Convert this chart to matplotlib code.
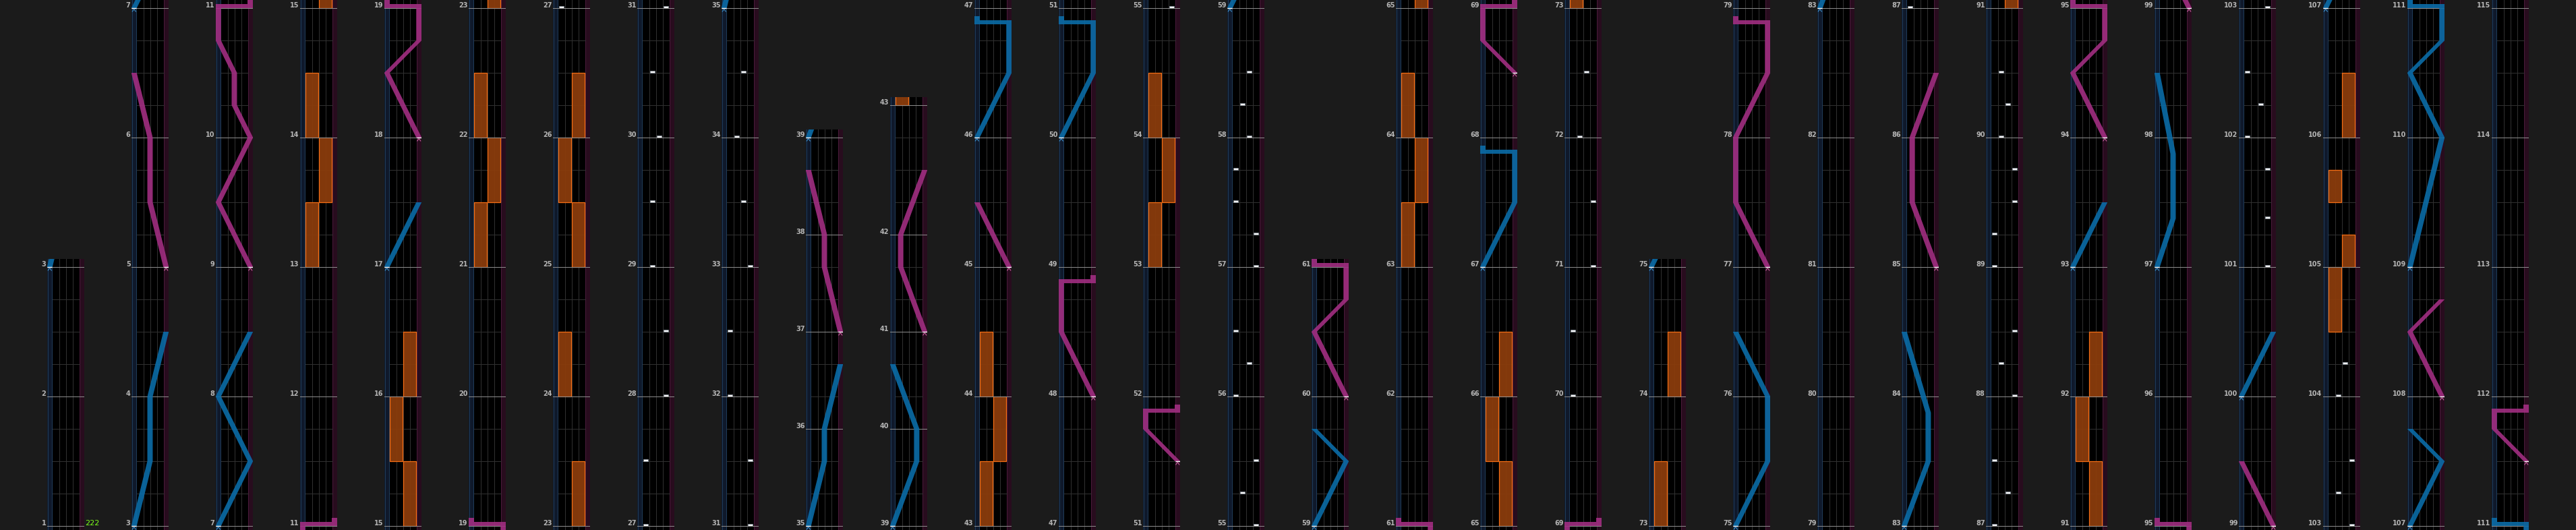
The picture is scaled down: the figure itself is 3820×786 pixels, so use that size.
import matplotlib
matplotlib.use('Agg')
import matplotlib.pyplot as plt
from matplotlib.patches import Rectangle, Polygon

# ---- chart data -------------------------------------------------------
n_measures = 116
three_four = [35, 36, 37, 38, 39, 40, 41]          # measures in 3/4

column_starts = [1, 3, 7, 11, 15, 19, 23, 27, 31, 35, 39, 43, 47, 51, 55,
                 59, 61, 65, 69, 73, 75, 79, 83, 87, 91, 95, 99, 103, 107, 111]
column_ends = [3, 7, 11, 15, 19, 23, 27, 31, 35, 39, 43, 47, 51, 55, 59,
               61, 65, 69, 73, 75, 79, 83, 87, 91, 95, 99, 103, 107, 111, 115]

bpm_marks = [(1, 0, '222')]

# BT chips: (measure, beat, lane 0-3)
bt_chips = [
    (27, 0, 0), (27, 2, 0), (28, 0, 3), (28, 2, 3), (29, 0, 1), (29, 2, 1),
    (30, 0, 2), (30, 2, 1), (31, 0, 3), (31, 2, 3), (32, 0, 0), (32, 2, 0),
    (33, 0, 3), (33, 2, 2), (34, 0, 1), (34, 2, 2),
    (55, 0, 3), (55, 1, 1), (55, 2, 3), (56, 0, 0), (56, 1, 2), (56, 2, 0),
    (57, 0, 3), (57, 1, 3), (57, 2, 0), (57, 3, 0), (58, 0, 2), (58, 1, 1), (58, 2, 2),
    (70, 0, 0), (70, 2, 0), (71, 0, 3), (71, 2, 3), (72, 0, 1), (72, 2, 2),
    (87, 0, 0), (87, 1, 2), (87, 2, 0), (88, 0, 3), (88, 1, 1), (88, 2, 3),
    (89, 0, 0), (89, 1, 0), (89, 2, 3), (89, 3, 3), (90, 0, 1), (90, 1, 2), (90, 2, 1),
    (101, 0, 3), (101, 1.5, 3), (101, 3, 3), (102, 0, 0), (102, 1, 2), (102, 2, 0),
    (103, 0, 3), (103, 1, 1), (103, 2, 3), (104, 0, 1), (104, 1, 2),
]

# FX holds: (measure, beat, length in beats, side 0=L 1=R)
fx_holds = [
    (13, 0, 2, 0), (13, 2, 2, 1), (14, 0, 2, 0),
    (15, 0, 2, 1), (15, 2, 2, 0), (16, 0, 2, 1),
    (21, 0, 2, 0), (21, 2, 2, 1), (22, 0, 2, 0),
    (23, 0, 2, 1), (24, 0, 2, 0), (25, 0, 2, 1), (25, 2, 2, 0), (26, 0, 2, 1),
    (43, 0, 2, 0), (43, 2, 2, 1), (44, 0, 2, 0),
    (53, 0, 2, 0), (53, 2, 2, 1), (54, 0, 2, 0),
    (63, 0, 2, 0), (63, 2, 2, 1), (64, 0, 2, 0),
    (65, 0, 2, 1), (65, 2, 2, 0), (66, 0, 2, 1),
    (73, 0, 2, 0), (74, 0, 2, 1),
    (91, 0, 2, 1), (91, 2, 2, 0), (92, 0, 2, 1),
    (104, 2, 2, 0), (105, 0, 1, 1), (105, 2, 1, 0), (106, 0, 2, 1),
]

# lasers: lists of (measure, beat, position 0-1); a repeated time = slam
blue_lasers = [
    [(3, 0, 0), (3, 2, .5), (4, 0, .5), (4, 2, 1)],
    [(7, 0, 0), (7, 2, 1), (8, 0, 0), (8, 2, 1)],
    [(17, 0, 0), (17, 2, 1)],
    [(35, 0, 0), (35, 2, .5), (36, 0, .5), (36, 2, 1)],
    [(39, 0, 0), (39, 2, .75), (40, 0, .75), (40, 2, 0)],
    [(46, 0, 0), (46, 2, 1), (46, 3.5, 1), (46, 3.5, 0)],
    [(50, 0, 0), (50, 2, 1), (50, 3.5, 1), (50, 3.5, 0)],
    [(59, 0, 0), (59, 2, 1), (59, 3, 0)],
    [(67, 0, 0), (67, 2, 1), (67, 3.5, 1), (67, 3.5, 0)],
    [(75, 0, 0), (75, 2, 1), (76, 0, 1), (76, 2, 0)],
    [(83, 0, 0), (83, 2, .75), (83, 3.5, .75), (84, 2, 0)],
    [(93, 0, 0), (93, 2, 1)],
    [(97, 0, 0), (97, 1.5, .5), (97, 3.5, .5), (98, 2, 0)],
    [(100, 0, 0), (100, 2, 1)],
    [(107, 0, 0), (107, 2, 1), (107, 3, 0)],
    [(109, 0, 0), (110, 0, 1), (110, 2, 0), (110, 3, 1), (111, 0, 1), (111, 0, 0)],
]
pink_lasers = [
    [(5, 0, 1), (5, 2, .5), (6, 0, .5), (6, 2, 0)],
    [(9, 0, 1), (9, 2, 0), (10, 0, 1), (10, 1, .5), (10, 2, .5), (10, 3, 0), (11, 0, 0), (11, 0, 1)],
    [(18, 0, 1), (18, 2, 0), (18, 3, 1), (19, 0, 1), (19, 0, 0)],
    [(37, 0, 1), (37, 2, .5), (38, 0, .5), (38, 2, 0)],
    [(41, 0, 1), (41, 2, .25), (42, 0, .25), (42, 2, 1)],
    [(45, 0, 1), (45, 2, 0)],
    [(48, 0, 1), (48, 2, 0), (48, 3.5, 0), (48, 3.5, 1)],
    [(51, 2, 1), (51, 3, 0), (51, 3.5, 0), (51, 3.5, 1)],
    [(60, 0, 1), (60, 2, 0), (60, 3, 1), (61, 0, 1), (61, 0, 0)],
    [(68, 2, 1), (68, 3, 0), (69, 0, 0), (69, 0, 1)],
    [(77, 0, 1), (77, 2, 0), (78, 0, 0), (78, 2, 1), (78, 3.5, 1), (78, 3.5, 0)],
    [(85, 0, 1), (85, 2, .25), (86, 0, .25), (86, 2, 1)],
    [(94, 0, 1), (94, 2, 0), (94, 3, 1), (95, 0, 1), (95, 0, 0)],
    [(99, 0, 1), (99, 2, 0)],
    [(108, 0, 1), (108, 2, 0), (108, 3, 1)],
    [(111, 2, 1), (111, 3, 0), (111, 3.5, 0), (111, 3.5, 1)],
]

# ---- layout -----------------------------------------------------------
W, H = 3820, 786
BG = '#1b1b1b'
PX = 48.0            # pixels per beat
LW_LANE = 7.5        # laser lane width (px units inside a column)
BT_W = 10.0
COL_W = 55.0
LASER_W = 8.0

beats = [0] + [3 if m in three_four else 4 for m in range(1, n_measures + 1)]
mstart = [0.0] * (n_measures + 2)
for m in range(2, n_measures + 2):
    mstart[m] = mstart[m - 1] + beats[m - 1]


def t_of(m, b):
    return mstart[m] + b


def xpos(p):
    return LW_LANE / 2 + p * (COL_W - LW_LANE)


fig = plt.figure(figsize=(W / 100, H / 100), dpi=100, facecolor=BG)

styles = {'blue': ('#0b6ca8', '#3f93cf'), 'pink': ('#a22e82', '#c8609f')}


def draw_laser(ax, pts, y0, color, light):
    ts = [t_of(m, b) - y0 for m, b, p in pts]
    xs = [xpos(p) for m, b, p in pts]
    slam = len(ts) >= 2 and ts[-1] == ts[-2]
    body_t = ts[:-1] if slam else ts
    body_x = xs[:-1] if slam else xs
    h = LASER_W / 2
    if len(body_t) >= 2:
        poly = [(x - h, t) for x, t in zip(body_x, body_t)] + \
               [(x + h, t) for x, t in zip(body_x[::-1], body_t[::-1])]
        ax.add_patch(Polygon(poly, closed=True, fc=color, ec='none', alpha=0.9, zorder=4))
    if slam:
        t = ts[-1]
        xa, xb = xs[-2], xs[-1]
        ax.add_patch(Rectangle((min(xa, xb) - h, t), abs(xb - xa) + 2 * h, 6 / PX,
                               fc=color, ec='none', alpha=0.9, zorder=4))
        ax.add_patch(Rectangle((xb - h, t + 6 / PX), 2 * h, 6 / PX,
                               fc=color, ec='none', alpha=0.9, zorder=4))
    # start tick and chevron
    x0, t0 = xs[0], ts[0]
    ax.plot([x0 - 3.5, x0 + 3.5], [t0, t0], color='white', lw=1.0, zorder=5,
            solid_capstyle='butt')
    ax.plot([x0 - 2.5, x0, x0 + 2.5], [t0 - 5 / PX, t0 - 1.5 / PX, t0 - 5 / PX],
            color=light, lw=0.8, zorder=5)


for k, (cs, ce) in enumerate(zip(column_starts, column_ends)):
    y0 = mstart[cs]
    nb = mstart[ce] - y0
    lo, hi = -6 / PX, nb + 12 / PX
    left = 70 + 125 * k
    height = PX * (hi - lo)
    ax = fig.add_axes([left / W, 0, COL_W / W, height / H])
    ax.set_xlim(0, COL_W)
    ax.set_ylim(lo, hi)
    ax.set_facecolor('black')
    ax.set_xticks([])
    ax.set_yticks([])
    for s in ax.spines.values():
        s.set_visible(False)

    # laser lanes
    ax.add_patch(Rectangle((0, lo), LW_LANE, hi - lo, fc='#0f192b', ec='none', zorder=0))
    ax.add_patch(Rectangle((COL_W - LW_LANE, lo), LW_LANE, hi - lo, fc='#280c1e', ec='none', zorder=0))
    for x, c in [(0.5, '#1f3b58'), (LW_LANE - 0.5, '#1f3b58'),
                 (COL_W - LW_LANE + 0.5, '#4a1a3a'), (COL_W - 0.5, '#4a1a3a')]:
        ax.plot([x, x], [lo, hi], color=c, lw=0.72, zorder=1)
    for i in range(1, 4):
        x = LW_LANE + BT_W * i
        ax.plot([x, x], [lo, hi], color='#303030', lw=0.72, zorder=1)

    # beat and measure lines
    for m in range(cs, ce + 1):
        y = mstart[m] - y0
        ax.plot([0, COL_W], [y, y], color='#8c8c8c', lw=0.72, zorder=3.5)
        ax.text(-1.5, y + 1 / PX, str(m), ha='right', va='baseline', color='#b4b4b4',
                fontsize=7, fontweight='bold', family='DejaVu Sans', clip_on=False)
        if m < ce:
            for b in range(1, beats[m]):
                ax.plot([LW_LANE, COL_W - LW_LANE], [y + b, y + b], color='#303030',
                        lw=0.72, zorder=1)

    # FX holds
    for m, b, ln, side in fx_holds:
        t = t_of(m, b) - y0
        if t > hi or t + ln < lo:
            continue
        ax.add_patch(Rectangle((LW_LANE + 0.8 + 2 * BT_W * side, t), 2 * BT_W - 1.6, ln,
                               fc='#8a3c0c', ec='#ff7214', lw=0.9, alpha=0.95, zorder=2))

    # BT chips
    for m, b, lane in bt_chips:
        t = t_of(m, b) - y0
        if t > hi or t < lo - 1:
            continue
        ax.add_patch(Rectangle((LW_LANE + BT_W * lane + 1.2, t), BT_W - 2.4, 3 / PX,
                               fc='#f2f2f2', ec='#8a94a0', lw=0.5, zorder=3))

    # lasers
    for name, group in [('blue', blue_lasers), ('pink', pink_lasers)]:
        col, light = styles[name]
        for pts in group:
            ts = [t_of(m, b) - y0 for m, b, p in pts]
            if max(ts) + 0.5 < lo or min(ts) > hi:
                continue
            draw_laser(ax, pts, y0, col, light)

    for m, b, txt in bpm_marks:
        if cs <= m < ce:
            ax.text(COL_W + 1, t_of(m, b) - y0 + 1 / PX, txt, ha='left', va='baseline',
                    color='#7dff1a', fontsize=8, family='DejaVu Sans', clip_on=False)

fig.savefig('out.png', dpi=100, facecolor=BG)
